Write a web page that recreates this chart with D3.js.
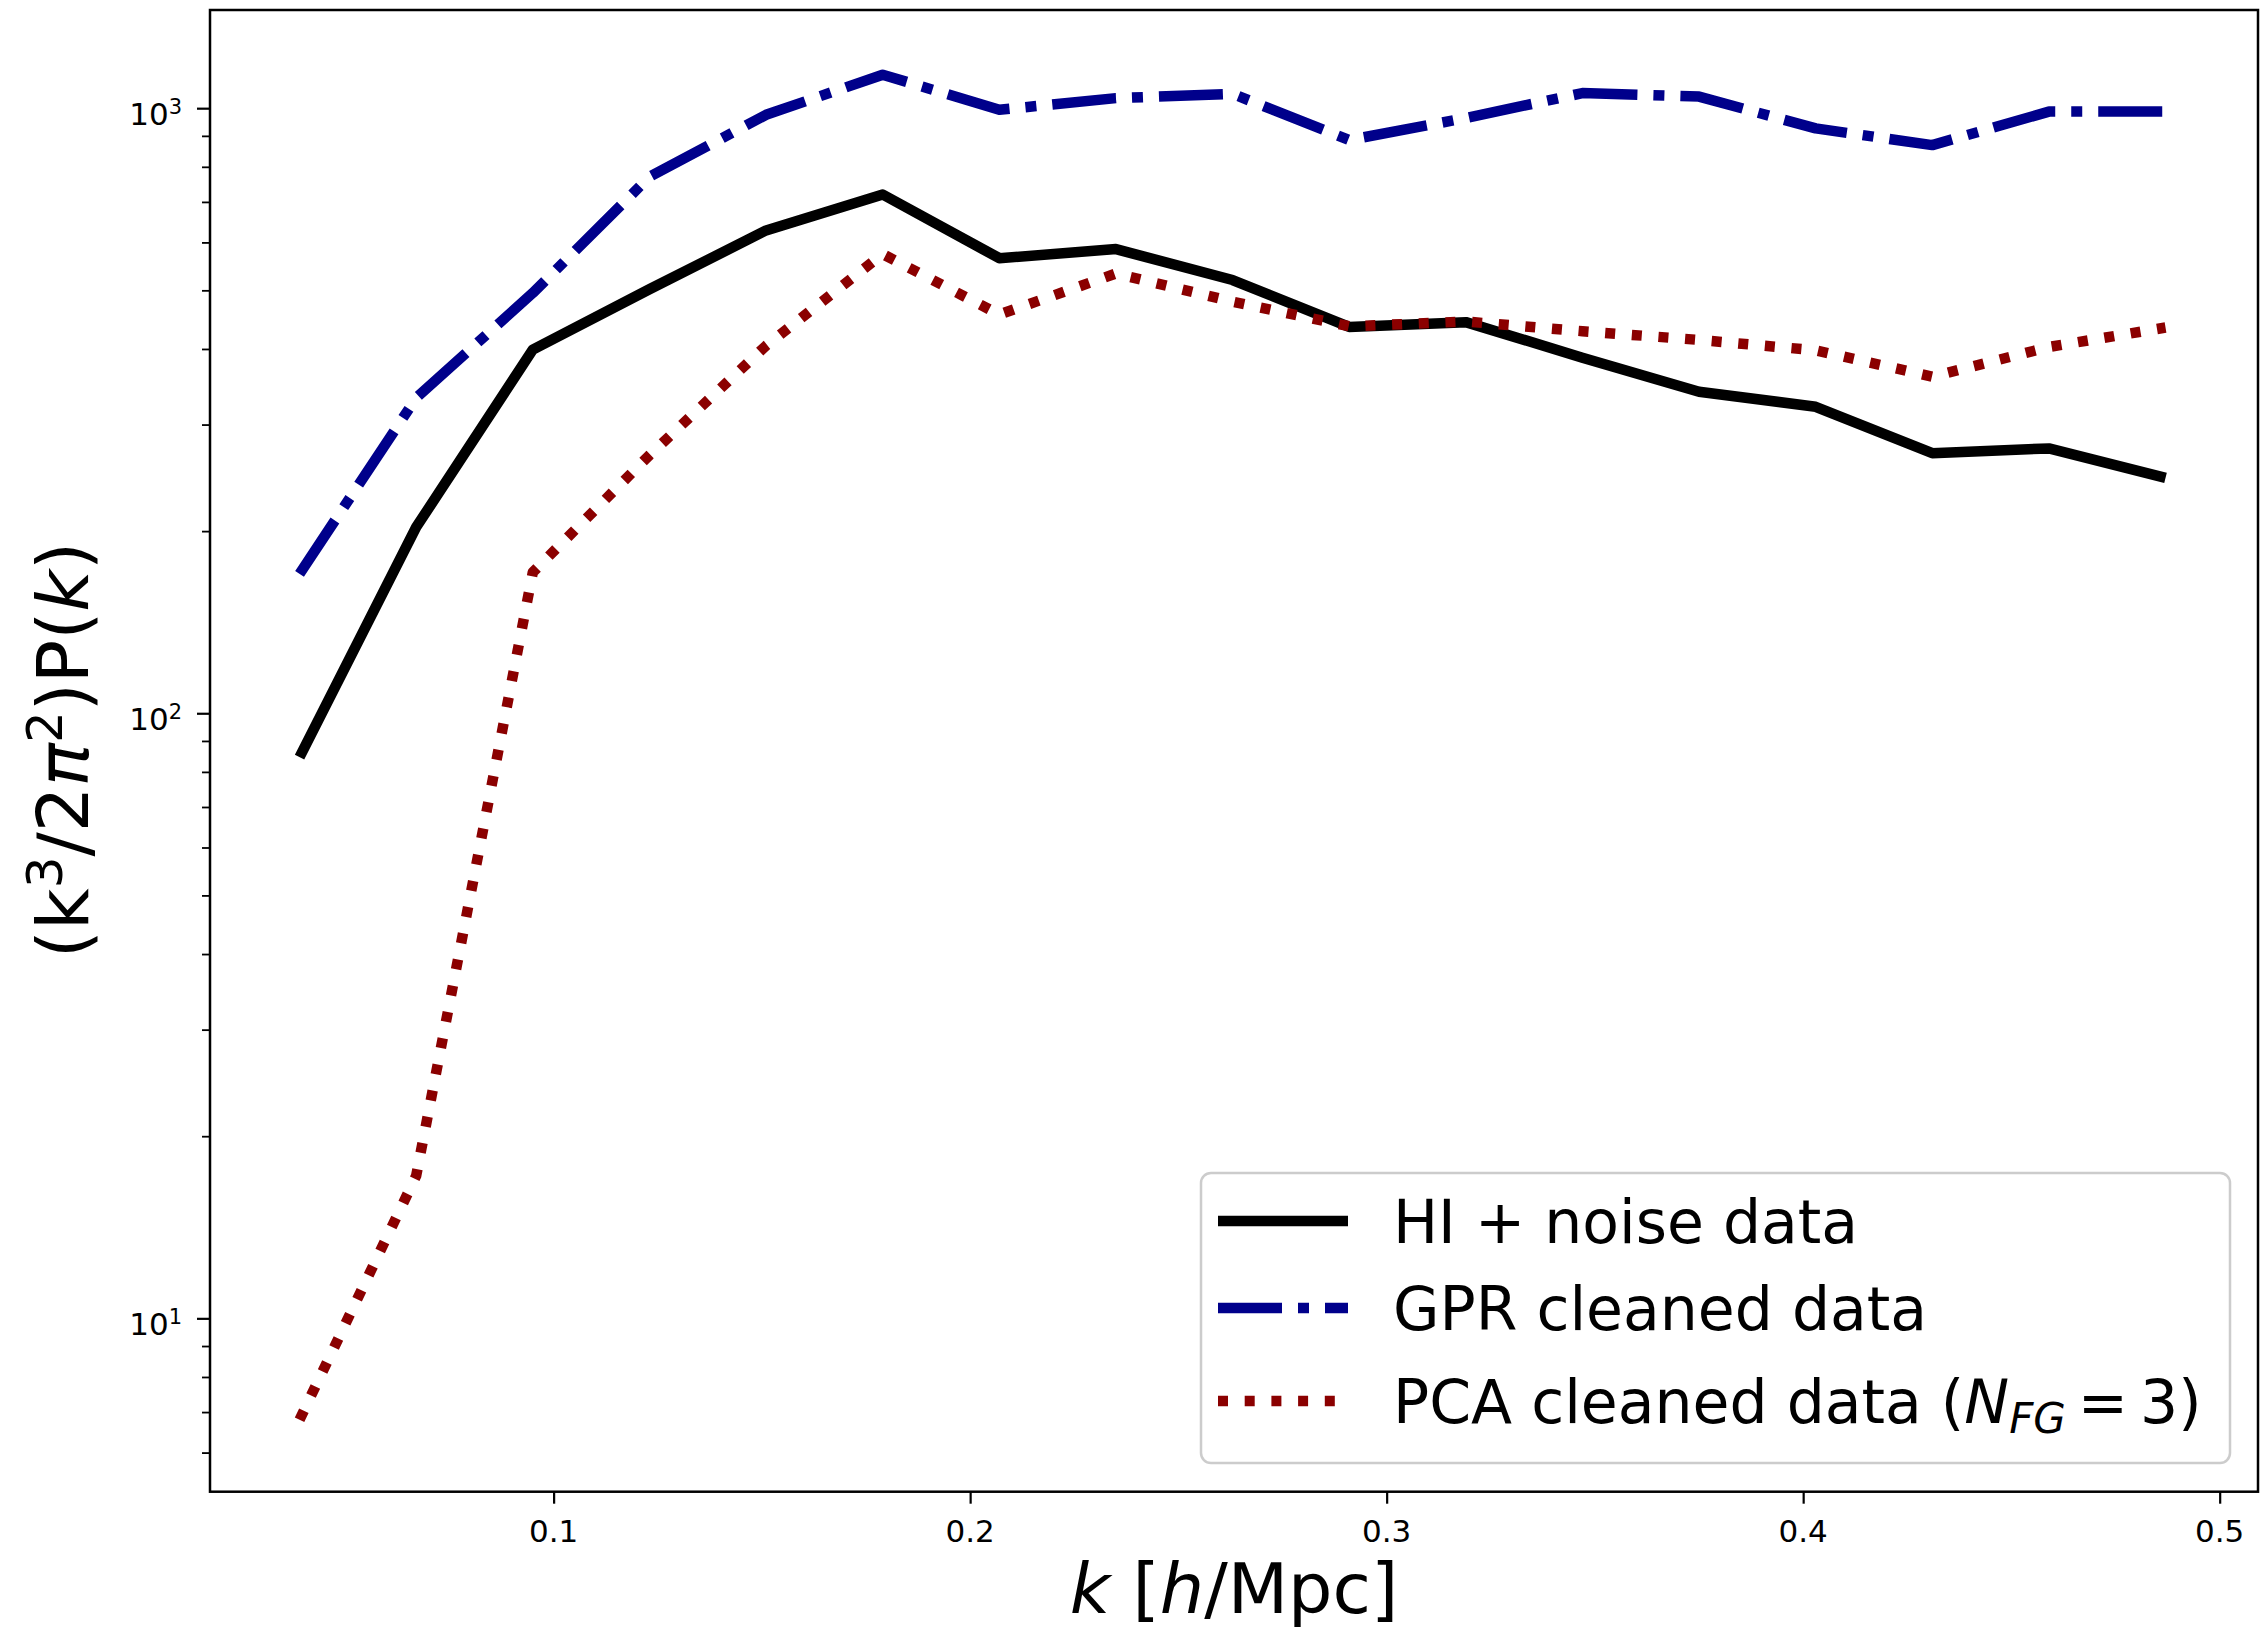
<!DOCTYPE html>
<html><head><meta charset="utf-8">
<script src="https://cdn.jsdelivr.net/npm/d3@7"></script>
<style>
body{margin:0;background:#fff}
svg{display:block}
text{font-family:"DejaVu Sans",sans-serif;fill:#000}
</style>
</head><body>
<svg id="chart" width="2262" height="1635"></svg>
<script>
// ---- data ----
const kValues = [0.039,0.067,0.095,0.123,0.151,0.179,0.207,0.235,0.263,0.291,0.319,0.347,0.375,0.403,0.431,0.459,0.487];
const hiNoise = [84.6,203,399,502,628,720,565,585,520,435,443,387,340,321,269,274,245];
const gprCleaned = [170,332,495,770,975,1136,994,1039,1056,886,963,1059,1045,926,869,987,987];
const pcaCleaned = [6.8,17.2,171,267,405,574,456,533,479,436,444,428,414,398,360,403,434];
const xTickValues = [0.1,0.2,0.3,0.4,0.5];
const xTickLabels = ["0.1","0.2","0.3","0.4","0.5"];
const yMajorExponents = [1,2,3];
const seriesNames = ["HI + noise data","GPR cleaned data","PCA cleaned data"];

// ---- layout ----
const L = 210, R = 2258, T = 10, B = 1491.7;
const svg = d3.select("#chart");
const x = d3.scaleLinear().domain([0.0175, 0.5092]).range([L, R]);
const y = d3.scaleLog().domain([5.17, 1453]).range([B, T]);

svg.append("defs").append("clipPath").attr("id","clip")
  .append("rect").attr("x",L).attr("y",T).attr("width",R-L).attr("height",B-T);

const series = [
  {name: seriesNames[0], values: hiNoise, color: "#000000", dash: null},
  {name: seriesNames[1], values: gprCleaned, color: "#00008b", dash: "64,16,11,16"},
  {name: seriesNames[2], values: pcaCleaned, color: "#8b0000", dash: "10,16.7"}
];
const lw = 10.5;

const line = d3.line().x((d,i)=>x(kValues[i])).y(d=>y(d));
const g = svg.append("g").attr("clip-path","url(#clip)");
series.forEach(s=>{
  g.append("path").datum(s.values)
    .attr("d", line)
    .attr("fill","none")
    .attr("stroke", s.color)
    .attr("stroke-width", lw)
    .attr("stroke-linejoin","round")
    .attr("stroke-linecap","butt")
    .attr("stroke-dasharray", s.dash);
});

// ---- x axis ----
const xAxis = svg.append("g").attr("transform",`translate(0,${B})`)
  .call(d3.axisBottom(x).tickValues(xTickValues).tickSize(12).tickFormat(""));
xAxis.select(".domain").remove();
xAxis.selectAll(".tick line").attr("stroke","#000").attr("stroke-width",2.2);
xTickValues.forEach((v,i)=>{
  svg.append("text").attr("x",x(v)).attr("y",1542)
    .attr("text-anchor","middle").attr("font-size",31).text(xTickLabels[i]);
});

// ---- y axis ----
const allTicks = y.ticks();
const majors = allTicks.filter(t => Math.abs(Math.log10(t) - Math.round(Math.log10(t))) < 1e-9);
const minors = allTicks.filter(t => !majors.includes(t));
const yMajor = svg.append("g").attr("transform",`translate(${L},0)`)
  .call(d3.axisLeft(y).tickValues(majors).tickSize(13).tickFormat(""));
yMajor.select(".domain").remove();
yMajor.selectAll(".tick line").attr("stroke","#000").attr("stroke-width",2.2);
const yMinor = svg.append("g").attr("transform",`translate(${L},0)`)
  .call(d3.axisLeft(y).tickValues(minors).tickSize(8).tickFormat(""));
yMinor.select(".domain").remove();
yMinor.selectAll(".tick line").attr("stroke","#000").attr("stroke-width",1.8);

yMajorExponents.forEach(e=>{
  const t = svg.append("text").attr("x",182).attr("y",y(Math.pow(10,e))+16.5)
    .attr("text-anchor","end").attr("font-size",31);
  t.append("tspan").text("10");
  t.append("tspan").attr("font-size",21).attr("dy",-11).text(String(e));
});

// ---- frame ----
svg.append("rect").attr("x",L).attr("y",T).attr("width",R-L).attr("height",B-T)
  .attr("fill","none").attr("stroke","#000").attr("stroke-width",2.5);

// ---- axis labels ----
const xl = svg.append("text").attr("x",(L+R)/2).attr("y",1613)
  .attr("text-anchor","middle").attr("font-size",70);
xl.append("tspan").attr("font-style","italic").text("k");
xl.append("tspan").text(" [");
xl.append("tspan").attr("font-style","italic").text("h");
xl.append("tspan").text("/Mpc]");

const yl = svg.append("text").attr("transform","translate(88,750) rotate(-90)")
  .attr("text-anchor","middle").attr("font-size",72);
yl.append("tspan").text("(k");
yl.append("tspan").attr("font-size",50).attr("dy",-26).text("3");
yl.append("tspan").attr("dy",26).text("/2");
yl.append("tspan").attr("font-style","italic").text("π");
yl.append("tspan").attr("font-size",50).attr("dy",-26).text("2");
yl.append("tspan").attr("dy",26).text(")P(");
yl.append("tspan").attr("font-style","italic").text("k");
yl.append("tspan").text(")");

// ---- legend ----
const lg = svg.append("g");
lg.append("rect").attr("x",1201).attr("y",1173).attr("width",1029).attr("height",290)
  .attr("rx",10).attr("fill","#fff").attr("fill-opacity",0.8)
  .attr("stroke","#cccccc").attr("stroke-width",2.5);
const rowY = [1221, 1308, 1401];
series.forEach((s,i)=>{
  lg.append("line").attr("x1",1218).attr("x2",1348).attr("y1",rowY[i]).attr("y2",rowY[i])
    .attr("stroke",s.color).attr("stroke-width",lw).attr("stroke-dasharray",s.dash)
    .attr("stroke-linecap","butt");
  const t = lg.append("text").attr("x",1393).attr("y",rowY[i]+22).attr("font-size",60);
  if(i<2){ t.text(s.name); }
  else {
    t.append("tspan").text(s.name + " (");
    t.append("tspan").attr("font-style","italic").text("N");
    t.append("tspan").attr("font-style","italic").attr("font-size",42).attr("dy",10).text("FG");
    t.append("tspan").attr("dy",-10).text("\u2009=\u20093)");
  }
});
</script>
</body></html>
